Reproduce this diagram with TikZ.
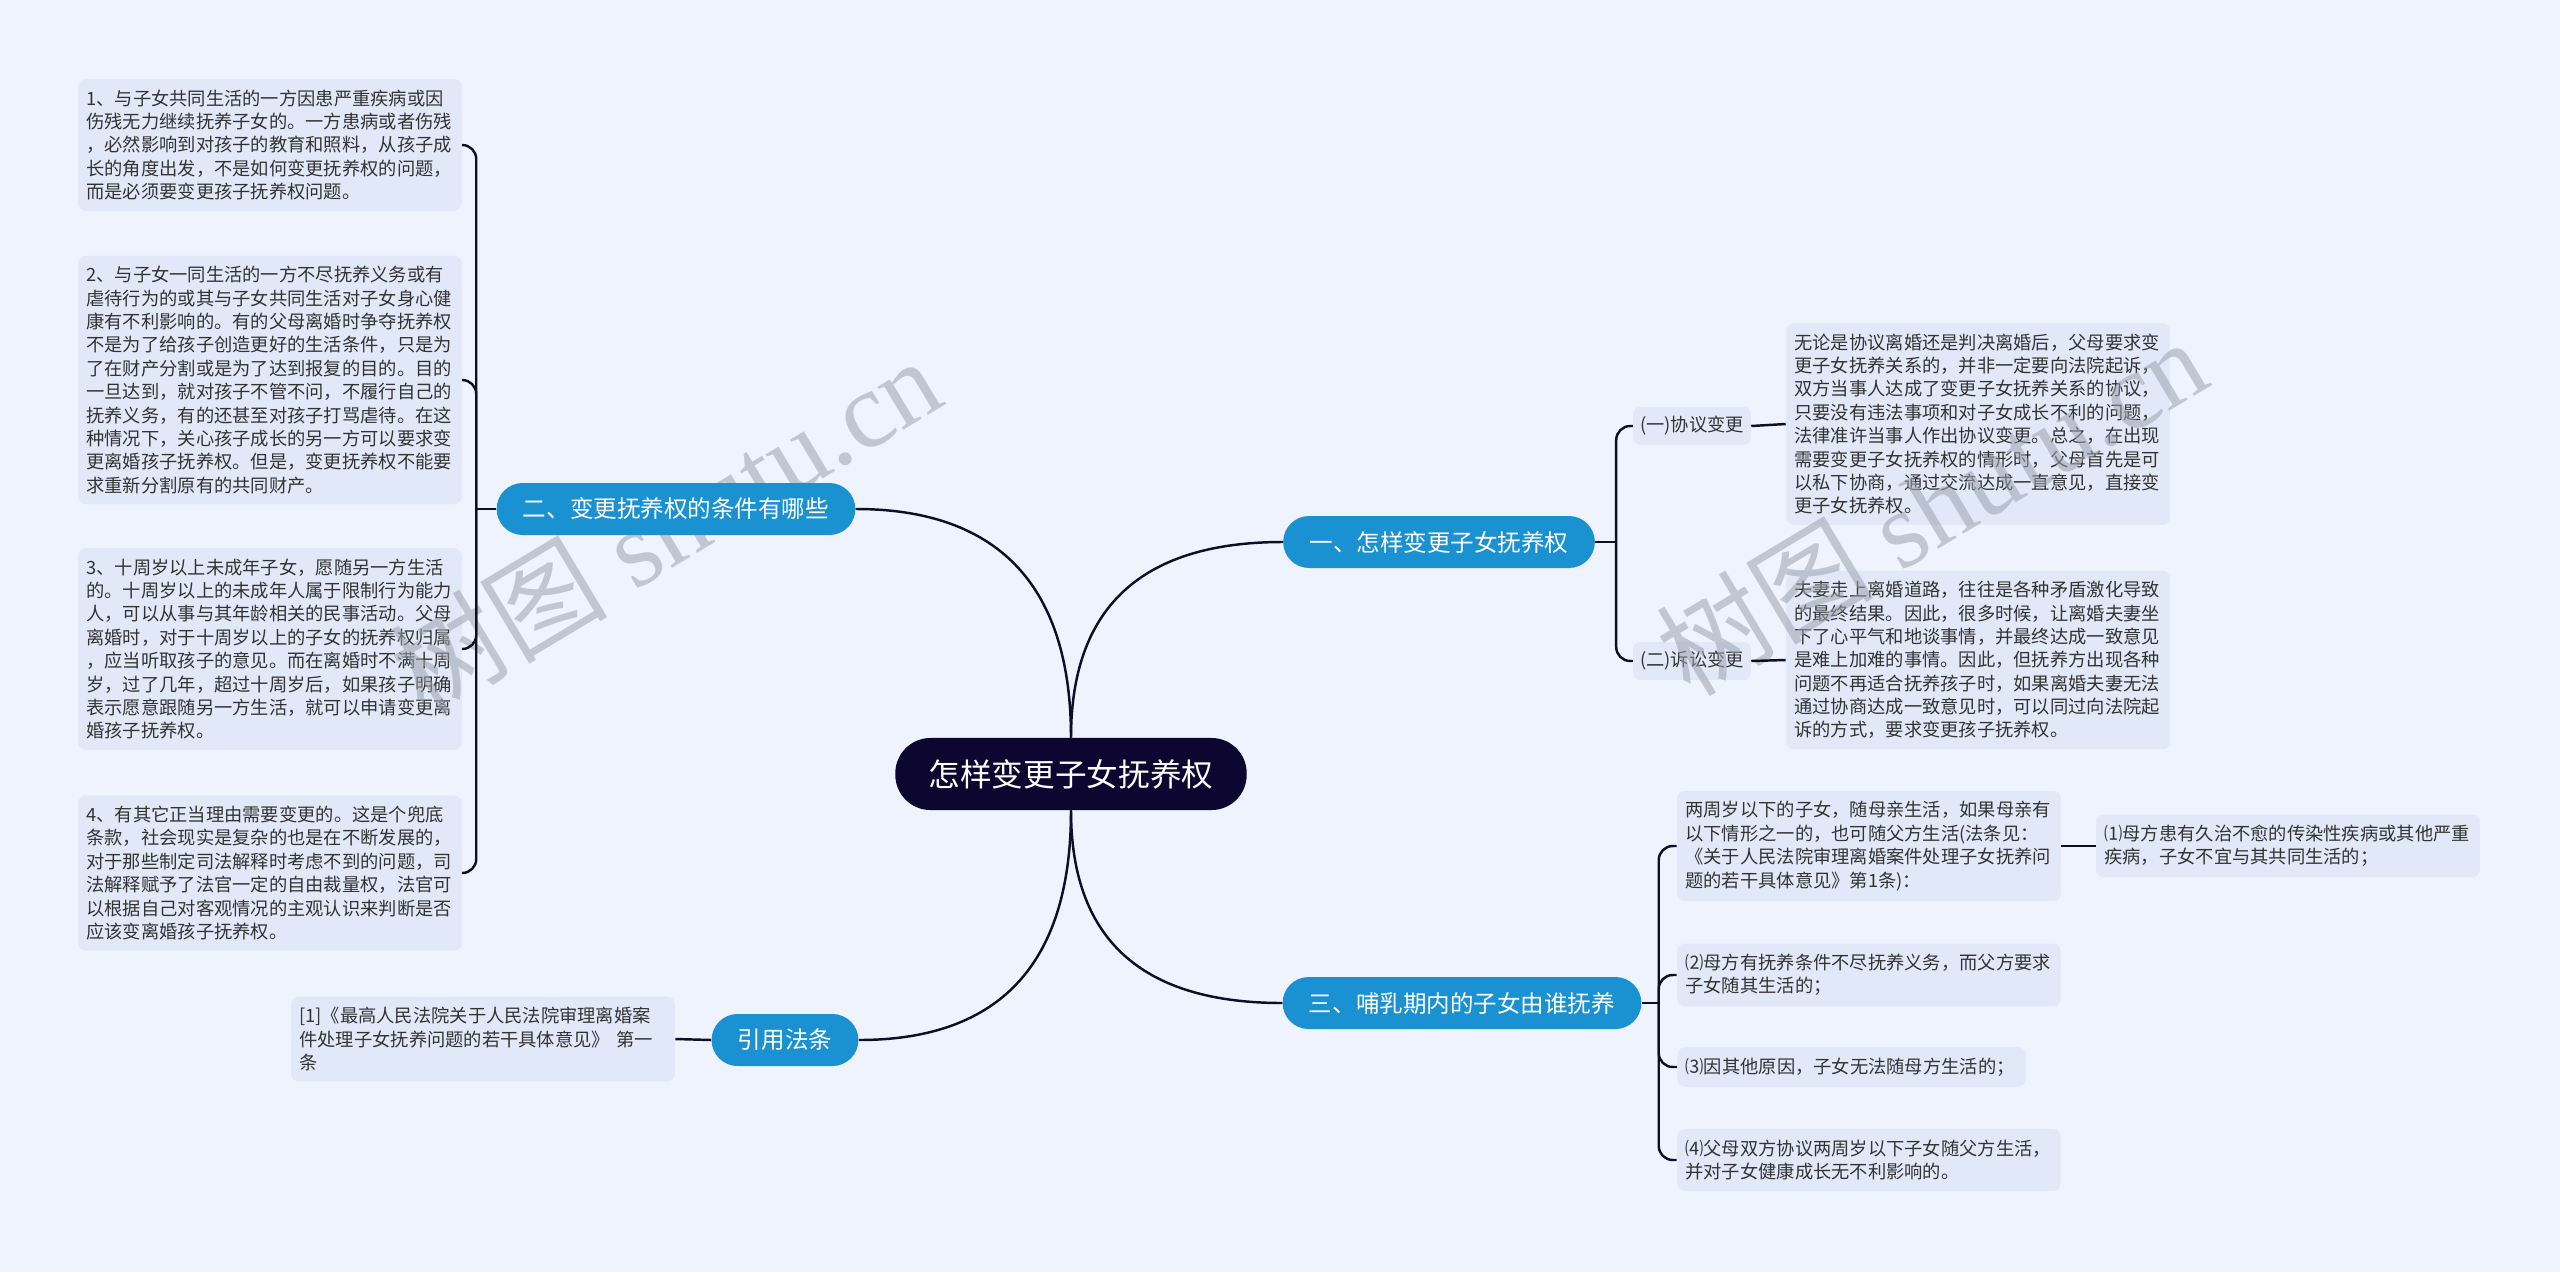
\documentclass[tikz,border=0pt]{standalone}
\usepackage{fontspec}
\setmainfont{Noto Sans CJK SC}
\newfontfamily\wmlatin{Liberation Serif}
\usepackage{tikz}
\usepackage{xcolor}

\definecolor{bgblue}{HTML}{EEF3FD}
\definecolor{leafblue}{HTML}{E1E9F9}
\definecolor{branchblue}{HTML}{1A91D1}
\definecolor{rootnavy}{HTML}{0C0631}
\definecolor{linedark}{HTML}{0E0E26}
\definecolor{leaftext}{HTML}{333333}
\definecolor{wmgray}{HTML}{9DA3AE}

\begin{document}
\begin{tikzpicture}[x=0.02cm, y=-0.02cm,
  root/.style={fill=rootnavy, text=white, font=\fontsize{18}{20}\selectfont, rounded corners=20pt, minimum height=41pt, inner xsep=19pt},
  branch/.style={fill=branchblue, text=white, font=\fontsize{13.4}{15}\selectfont, rounded corners=14.8pt, minimum height=29.6pt, inner xsep=15pt},
  sub/.style={fill=leafblue, text=leaftext, font=\fontsize{10.4}{13}\selectfont, rounded corners=4pt, minimum height=21.6pt, inner xsep=4pt},
  leaf/.style={fill=leafblue, text=leaftext, font=\fontsize{10.4}{13.3}\selectfont, rounded corners=4.5pt, text width=209pt, align=left, inner xsep=4.75pt, inner ysep=6pt},
  wmark/.style={text=wmgray, text opacity=0.55, font=\fontsize{62}{62}\selectfont, rotate=31},
  link/.style={draw=linedark, line width=1.4pt},
  fork/.style={link, rounded corners=8pt}]

% Canvas
\useasboundingbox (0,0) rectangle (2560,1272);
\fill[bgblue] (0,0) rectangle (2560,1272);

% Conditions (left)
\node[leaf] (cond1) at (270,145) {1、与子女共同生活的一方因患严重疾病或因\\伤残无力继续抚养子女的。一方患病或者伤残\\，必然影响到对孩子的教育和照料，从孩子成\\长的角度出发，不是如何变更抚养权的问题，\\而是必须要变更孩子抚养权问题。};
\node[leaf] (cond2) at (270,380) {2、与子女一同生活的一方不尽抚养义务或有\\虐待行为的或其与子女共同生活对子女身心健\\康有不利影响的。有的父母离婚时争夺抚养权\\不是为了给孩子创造更好的生活条件，只是为\\了在财产分割或是为了达到报复的目的。目的\\一旦达到，就对孩子不管不问，不履行自己的\\抚养义务，有的还甚至对孩子打骂虐待。在这\\种情况下，关心孩子成长的另一方可以要求变\\更离婚孩子抚养权。但是，变更抚养权不能要\\求重新分割原有的共同财产。};
\node[leaf] (cond3) at (270,649) {3、十周岁以上未成年子女，愿随另一方生活\\的。十周岁以上的未成年人属于限制行为能力\\人，可以从事与其年龄相关的民事活动。父母\\离婚时，对于十周岁以上的子女的抚养权归属\\，应当听取孩子的意见。而在离婚时不满十周\\岁，过了几年，超过十周岁后，如果孩子明确\\表示愿意跟随另一方生活，就可以申请变更离\\婚孩子抚养权。};
\node[leaf] (cond4) at (270,873) {4、有其它正当理由需要变更的。这是个兜底\\条款，社会现实是复杂的也是在不断发展的，\\对于那些制定司法解释时考虑不到的问题，司\\法解释赋予了法官一定的自由裁量权，法官可\\以根据自己对客观情况的主观认识来判断是否\\应该变离婚孩子抚养权。};

% Citation leaf
\node[leaf] (cite) at (483,1039) {[1]《最高人民法院关于人民法院审理离婚案\\件处理子女抚养问题的若干具体意见》 第一\\条};

% Ways to change (right top)
\node[sub] (agree) at (1692,426) {(一)协议变更};
\node[sub] (suit) at (1692,661) {(二)诉讼变更};
\node[leaf] (agreetxt) at (1978,424) {无论是协议离婚还是判决离婚后，父母要求变\\更子女抚养关系的，并非一定要向法院起诉，\\双方当事人达成了变更子女抚养关系的协议，\\只要没有违法事项和对子女成长不利的问题，\\法律准许当事人作出协议变更。总之，在出现\\需要变更子女抚养权的情形时，父母首先是可\\以私下协商，通过交流达成一直意见，直接变\\更子女抚养权。};
\node[leaf] (suittxt) at (1978,660) {夫妻走上离婚道路，往往是各种矛盾激化导致\\的最终结果。因此，很多时候，让离婚夫妻坐\\下了心平气和地谈事情，并最终达成一致意见\\是难上加难的事情。因此，但抚养方出现各种\\问题不再适合抚养孩子时，如果离婚夫妻无法\\通过协商达成一致意见时，可以同过向法院起\\诉的方式，要求变更孩子抚养权。};

% Nursing period (right bottom)
\node[leaf] (nurse1) at (1869,846) {两周岁以下的子女，随母亲生活，如果母亲有\\以下情形之一的，也可随父方生活(法条见：\\《关于人民法院审理离婚案件处理子女抚养问\\题的若干具体意见》第1条)：};
\node[leaf] (nurse2) at (1869,975) {⑵母方有抚养条件不尽抚养义务，而父方要求\\子女随其生活的；};
\node[leaf, text width=189pt, anchor=west] (nurse3) at (1677,1067) {⑶因其他原因，子女无法随母方生活的；};
\node[leaf] (nurse4) at (1869,1160) {⑷父母双方协议两周岁以下子女随父方生活，\\并对子女健康成长无不利影响的。};
\node[leaf] (mother) at (2288,846) {⑴母方患有久治不愈的传染性疾病或其他严重\\疾病，子女不宜与其共同生活的；};

% Watermarks
\node[wmark] (wm1) at (665,525) {树图{\wmlatin\ shutu.cn}};
\node[wmark] (wm2) at (1931,506) {树图{\wmlatin\ shutu.cn}};

% Root
\node[root] (root) at (1071,774) {怎样变更子女抚养权};

% Branches
\node[branch] (how) at (1439,542) {一、怎样变更子女抚养权};
\node[branch] (cond) at (676,509) {二、变更抚养权的条件有哪些};
\node[branch] (nurse) at (1462,1003) {三、哺乳期内的子女由谁抚养};
\node[branch] (law) at (785,1040) {引用法条};

% Root connectors
\draw[link] (root.north) to[out=90, in=180, looseness=1.2] (how.west);
\draw[link] (root.north) to[out=90, in=0, looseness=1.2] (cond.east);
\draw[link] (root.south) to[out=-90, in=180, looseness=1.2] (nurse.west);
\draw[link] (root.south) to[out=-90, in=0, looseness=1.2] (law.east);

% Forks
\draw[link] (cond.west) -- ++(-20,0) coordinate (condfork);
\foreach \c in {cond1,cond2,cond3,cond4}
  \draw[fork] (condfork) |- (\c.east);
\draw[link] (how.east) -- ++(21,0) coordinate (howfork);
\foreach \c in {agree,suit}
  \draw[fork] (howfork) |- (\c.west);
\draw[link] (nurse.east) -- ++(17,0) coordinate (nursefork);
\foreach \c in {nurse1,nurse2,nurse3,nurse4}
  \draw[fork] (nursefork) |- (\c.west);

% Straight links
\draw[link] (law.west) -- (cite.east);
\draw[link] (agree.east) -- (agreetxt.west);
\draw[link] (suit.east) -- (suittxt.west);
\draw[link] (nurse1.east) -- (mother.west);

\end{tikzpicture}
\end{document}
